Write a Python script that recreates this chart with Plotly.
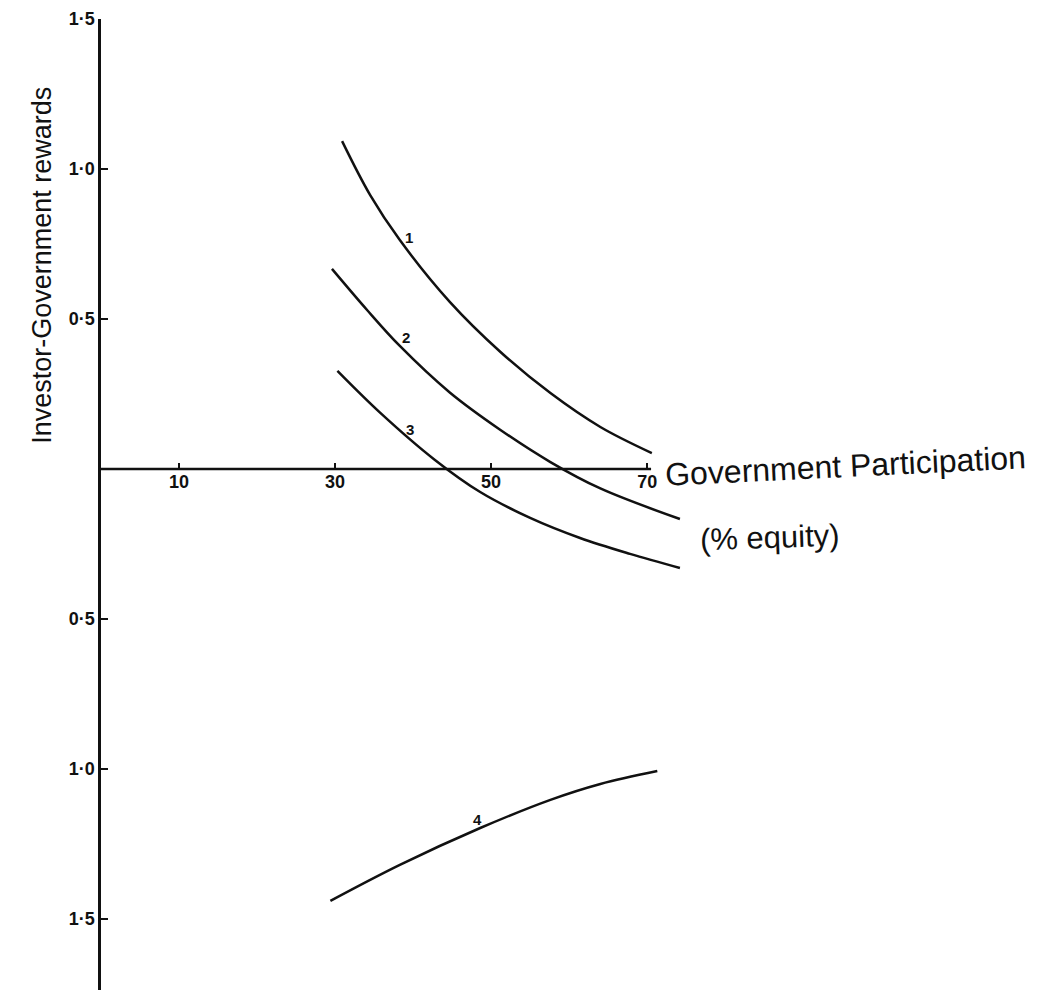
import plotly.graph_objects as go

# Government participation (% equity) and investor-government rewards per curve
share_1 = [30.9, 34.5, 38.3, 44.7, 51.2, 57.6, 64.0, 70.6]
reward_1 = [1.093, 0.913, 0.763, 0.557, 0.390, 0.253, 0.140, 0.053]

share_2 = [29.6, 34.1, 38.3, 44.7, 51.2, 57.6, 64.0, 74.2]
reward_2 = [0.667, 0.530, 0.410, 0.255, 0.130, 0.023, -0.065, -0.167]

share_3 = [30.3, 35.8, 42.8, 48.6, 55.0, 61.4, 67.8, 74.2]
reward_3 = [0.327, 0.187, 0.030, -0.077, -0.163, -0.230, -0.283, -0.330]

share_4 = [29.4, 38.3, 48.6, 57.6, 64.0, 71.3]
reward_4 = [-1.440, -1.320, -1.197, -1.103, -1.050, -1.007]

curve_names = ["1", "2", "3", "4"]
name_x = [39.5, 39.1, 39.6, 48.3]
name_y = [0.773, 0.437, 0.130, -1.167]

x_ticks = [10, 30, 50, 70]
x_tick_text = ["10", "30", "50", "70"]
y_ticks = [1.5, 1.0, 0.5, -0.5, -1.0, -1.5]
y_tick_text = ["1·5", "1·0", "0·5", "0·5", "1·0", "1·5"]

x_range = [0, 122.4]
y_range = [-1.737, 1.5]
x_axis_end = 70.5

FONT = "Liberation Sans, Arial, sans-serif"
INK = "#111111"

fig = go.Figure()
for xs, ys in [(share_1, reward_1), (share_2, reward_2),
               (share_3, reward_3), (share_4, reward_4)]:
    fig.add_trace(go.Scatter(
        x=xs, y=ys, mode="lines",
        line=dict(color=INK, width=2.5, shape="spline", smoothing=1.0),
        showlegend=False, hoverinfo="skip",
    ))

# Curve numbers
for name, xv, yv in zip(curve_names, name_x, name_y):
    fig.add_annotation(
        x=xv, y=yv, xref="x", yref="y", text=f"<b>{name}</b>",
        showarrow=False, font=dict(family=FONT, size=15, color=INK),
    )

# Horizontal axis line at zero reward
fig.add_shape(type="line", xref="x", yref="y", x0=0, x1=x_axis_end, y0=0, y1=0,
              line=dict(color=INK, width=2.5))

zero_pos = (0 - y_range[0]) / (y_range[1] - y_range[0])

tick_font = dict(family=FONT, size=18, color=INK, weight="bold")

fig.update_layout(
    width=1056, height=990,
    margin=dict(l=101, r=0, t=19, b=0),
    paper_bgcolor="white", plot_bgcolor="white",
    font=dict(family=FONT, color=INK),
    xaxis=dict(
        range=x_range, anchor="free", position=zero_pos,
        showline=False, showgrid=False, zeroline=False,
        ticks="inside", ticklen=6, tickwidth=2, tickcolor=INK,
        tickvals=x_ticks, ticktext=x_tick_text, tickfont=tick_font,
    ),
    yaxis=dict(
        range=y_range, showline=True, linecolor=INK, linewidth=2.5,
        showgrid=False, zeroline=False,
        ticks="inside", ticklen=7, tickwidth=2, tickcolor=INK,
        tickvals=y_ticks, ticktext=y_tick_text, tickfont=tick_font,
    ),
)

# Axis titles
fig.add_annotation(
    text="Investor-Government rewards", textangle=-90,
    xref="paper", yref="y", x=-0.062, y=0.68,
    xanchor="center", yanchor="middle", showarrow=False,
    font=dict(family=FONT, size=27, color=INK),
)
fig.add_annotation(
    text="Government Participation", textangle=-2.8,
    xref="x", yref="y", x=95.4, y=0.01,
    xanchor="center", yanchor="middle", showarrow=False,
    font=dict(family=FONT, size=32, color=INK),
)
fig.add_annotation(
    text="(% equity)", textangle=-2,
    xref="x", yref="y", x=85.8, y=-0.23,
    xanchor="center", yanchor="middle", showarrow=False,
    font=dict(family=FONT, size=31, color=INK),
)

fig.write_html("out.html")
